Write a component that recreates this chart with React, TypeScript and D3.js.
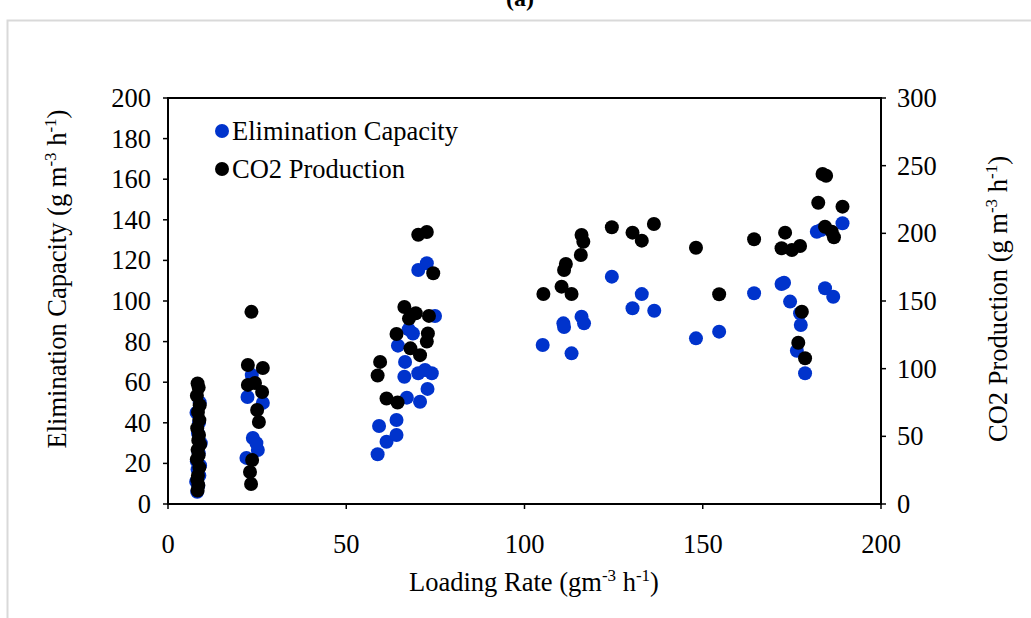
import React from "react";
import * as d3 from "d3";

// Elimination Capacity (left axis)
const ecX = [8.2, 8.5, 7.9, 8.8, 8.3, 9.0, 8.1, 8.6, 9.2, 8.4, 8.7, 8.0, 8.9,
  23.5, 22.3, 26.6, 23.8, 25.2, 22.0, 24.8,
  58.8, 61.3, 64.1, 59.2, 64.1, 67.0, 70.7, 72.8, 66.3, 70.2, 74.0, 66.5, 72.1, 68.7, 74.9, 70.2, 72.6, 67.5, 64.5,
  105.1, 110.9, 111.1, 116.0, 116.7, 113.2, 124.5, 130.3, 132.9, 136.4,
  148.1, 154.6, 164.4, 172.1, 172.8, 174.5, 177.3, 177.5, 176.4, 178.7, 184.3, 186.6, 182.0, 189.2, 183.2];
const ecY = [6, 9, 11, 14, 17, 19, 21, 25, 30, 35, 40, 45, 50,
  63.5, 52.7, 49.8, 32.5, 26.6, 22.7, 30.0,
  24.5, 30.7, 34, 38.4, 41.4, 52.4, 50.4, 56.7, 62.7, 64.4, 64.4, 70, 66, 84, 92.6, 115.3, 118.6, 86, 78,
  78.3, 89, 87.2, 92.3, 89, 74.2, 112, 96.4, 103.4, 95.2,
  81.6, 84.9, 103.8, 108.4, 109, 99.7, 94, 88.2, 75.5, 64.4, 106.3, 102.1, 134.1, 138.3, 135];

// CO2 Production (right axis)
const co2X = [8.3, 8.6, 8.1, 8.9, 8.4, 8.8, 8.2, 8.7, 8.5, 9.0, 8.3, 8.6, 8.1, 8.8, 8.4, 8.2, 8.5, 8.3,
  23.4, 22.4, 26.6, 22.4, 24.4, 26.4, 25.0, 25.5, 23.6, 23.0, 23.3,
  58.8, 59.5, 61.3, 64.4, 64.1, 66.3, 67.6, 69.5, 68.0, 70.7, 72.6, 72.9, 73.2, 74.4, 70.2, 72.6,
  105.3, 110.4, 113.2, 111.1, 111.6, 115.8, 116.5, 116.0, 124.5, 130.3, 132.9, 136.3,
  148.1, 154.6, 164.4, 173.1, 172.1, 175.0, 177.3, 177.8, 176.8, 178.7, 183.6, 182.4, 189.2, 184.3, 186.2, 186.8, 184.6];
const co2Y = [89, 86, 80, 73, 68, 62, 56, 51, 47, 44, 40, 36, 33, 27, 21, 18, 14, 10,
  142, 102.7, 100.5, 88, 89.4, 82.8, 69.5, 60.6, 32.5, 23.6, 14.8,
  95, 105, 78, 75, 125.6, 145.6, 137, 141, 115, 110, 120, 126, 139, 170.5, 199, 201,
  155.2, 160.6, 155.2, 172.9, 177.3, 184, 193.8, 198.8, 204.5, 200.5, 194.6, 206.9,
  189.4, 155, 195.6, 200.5, 189, 187.7, 190.6, 142.1, 119.2, 107.7, 243.8, 222.6, 219.7, 204.9, 201.2, 197.1, 242.5];

const xTicks = [0, 50, 100, 150, 200];
const leftTicks = [0, 20, 40, 60, 80, 100, 120, 140, 160, 180, 200];
const rightTicks = [0, 50, 100, 150, 200, 250, 300];

const BLUE = "#0033CC";
const FONT = "'Liberation Serif', 'Times New Roman', serif";
const FS = 26.5;
const SUP = 17;

export default function App() {
  const x = d3.scaleLinear().domain([0, 200]).range([168, 881]);
  const yL = d3.scaleLinear().domain([0, 200]).range([504, 98]);
  const yR = d3.scaleLinear().domain([0, 300]).range([504, 98]);
  const r = 7;

  const unit = (
    <>
      <tspan fontSize={SUP} dy={-10}>-3</tspan>
      <tspan dy={10}> h</tspan>
      <tspan fontSize={SUP} dy={-10}>-1</tspan>
      <tspan dy={10}>)</tspan>
    </>
  );

  return (
    <svg width={1031} height={618} style={{ position: "absolute", left: 0, top: 0 }} fontFamily={FONT}>
      <rect x={0} y={0} width={1031} height={618} fill="#fff" />
      <rect x={7.5} y={20.5} width={1100} height={700} fill="none" stroke="#d9d9d9" strokeWidth={2} />
      <text x={520} y={6} textAnchor="middle" fontSize={24} fontWeight="bold">(a)</text>

      {/* points */}
      {ecX.map((v, i) => (
        <circle key={"e" + i} cx={x(v)} cy={yL(ecY[i])} r={r} fill={BLUE} />
      ))}
      {co2X.map((v, i) => (
        <circle key={"c" + i} cx={x(v)} cy={yR(co2Y[i])} r={r} fill="#000" />
      ))}

      {/* plot frame */}
      <rect x={x(0)} y={yL(200)} width={x(200) - x(0)} height={yL(0) - yL(200)} fill="none" stroke="#000" strokeWidth={2} />

      {/* x axis */}
      {xTicks.map((t) => (
        <g key={"xt" + t}>
          <line x1={x(t)} x2={x(t)} y1={504} y2={509} stroke="#000" strokeWidth={1.5} />
          <text x={x(t)} y={553} textAnchor="middle" fontSize={FS}>{t}</text>
        </g>
      ))}
      {/* left axis */}
      {leftTicks.map((t) => (
        <g key={"lt" + t}>
          <line x1={163} x2={168} y1={yL(t)} y2={yL(t)} stroke="#000" strokeWidth={1.5} />
          <text x={151} y={yL(t) + 9} textAnchor="end" fontSize={FS}>{t}</text>
        </g>
      ))}
      {/* right axis */}
      {rightTicks.map((t) => (
        <g key={"rt" + t}>
          <line x1={881} x2={886} y1={yR(t)} y2={yR(t)} stroke="#000" strokeWidth={1.5} />
          <text x={897} y={yR(t) + 9} textAnchor="start" fontSize={FS}>{t}</text>
        </g>
      ))}

      {/* axis titles */}
      <text x={534} y={591} textAnchor="middle" fontSize={FS}>
        Loading Rate (gm{unit}
      </text>
      <text transform="translate(66,279) rotate(-90)" textAnchor="middle" fontSize={FS}>
        Elimination Capacity (g m{unit}
      </text>
      <text transform="translate(1007,299) rotate(-90)" textAnchor="middle" fontSize={FS}>
        CO2 Production (g m{unit}
      </text>

      {/* legend */}
      <circle cx={222} cy={131} r={7} fill={BLUE} />
      <text x={232} y={140} fontSize={FS}>Elimination Capacity</text>
      <circle cx={222} cy={169} r={7} fill="#000" />
      <text x={232} y={178} fontSize={FS}>CO2 Production</text>
    </svg>
  );
}
